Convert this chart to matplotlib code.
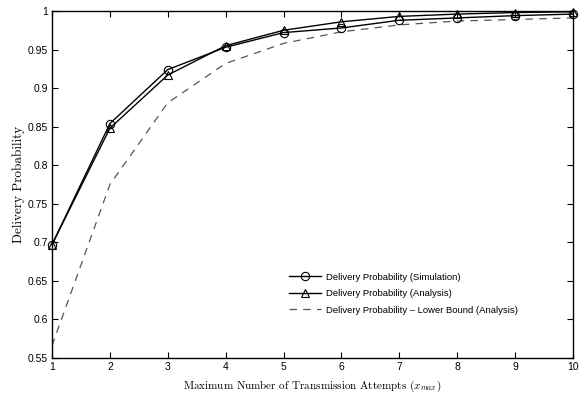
import matplotlib
matplotlib.use("Agg")
import matplotlib.pyplot as plt
from matplotlib.ticker import FuncFormatter

x = [1, 2, 3, 4, 5, 6, 7, 8, 9, 10]
sim = [0.697, 0.854, 0.924, 0.953, 0.972, 0.978, 0.988, 0.991, 0.994, 0.996]
ana = [0.697, 0.848, 0.917, 0.955, 0.975, 0.986, 0.993, 0.996, 0.998, 0.999]
lower = [0.566, 0.775, 0.881, 0.932, 0.958, 0.973, 0.982, 0.987, 0.989, 0.991]
yticks = [0.55, 0.6, 0.65, 0.7, 0.75, 0.8, 0.85, 0.9, 0.95, 1.0]

plt.rcParams['mathtext.fontset'] = 'cm'

fig = plt.figure(figsize=(5.87, 4.01), dpi=100)
ax = fig.add_axes([52/587, 1-358/401, (573-52)/587, (358-11)/401])

ax.plot(x, sim, color='black', lw=1.0, marker='o', ms=6, mfc='none', mec='black', mew=0.8,
        label='Delivery Probability (Simulation)', clip_on=False, zorder=3)
ax.plot(x, ana, color='black', lw=1.0, marker='^', ms=6, mfc='none', mec='black', mew=0.8,
        label='Delivery Probability (Analysis)', clip_on=False, zorder=3)
ax.plot(x, lower, color='#555555', lw=0.9, ls=(0, (6, 5)),
        label='Delivery Probability \u2013 Lower Bound (Analysis)')

ax.set_xlim(1, 10)
ax.set_ylim(0.55, 1.0)
ax.set_xticks(x)
ax.set_yticks(yticks)
ax.yaxis.set_major_formatter(FuncFormatter(lambda v, p: '%g' % round(v, 2)))
ax.tick_params(direction='in', top=True, right=True, length=4, width=0.8,
               labelsize=7.5, pad=3)
for lab in ax.get_xticklabels() + ax.get_yticklabels():
    lab.set_family('Liberation Sans')
for s in ax.spines.values():
    s.set_linewidth(1.0)

ax.set_xlabel(r'Maximum Number of Transmission Attempts ($x_{max}$)',
              family='cmr10', fontsize=8, labelpad=4.5)
ax.set_ylabel('Delivery Probability', family='cmr10', fontsize=9.5)
ax.yaxis.set_label_coords(-0.052, 0.5)

leg = ax.legend(loc='lower right', bbox_to_anchor=(0.91, 0.10), frameon=False,
                prop={'family': 'Liberation Sans', 'size': 6.8}, handlelength=3.4,
                labelspacing=0.8, handletextpad=0.5)

fig.savefig('out.png', dpi=100)
